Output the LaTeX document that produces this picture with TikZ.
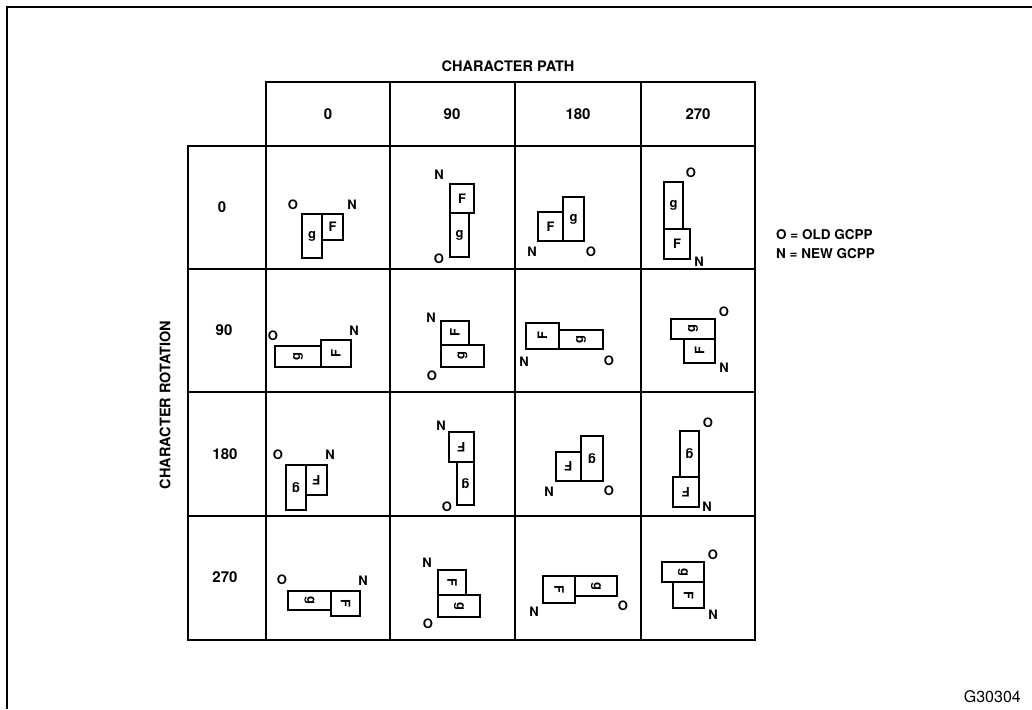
\documentclass[tikz,border=0pt]{standalone}
\usepackage{fontspec}
\setmainfont{TeX Gyre Heros}
\tikzset{
  frameline/.style={line width=1.8pt},
  gridline/.style={line width=1.8pt},
  box/.style={draw, line width=1.7pt, inner sep=0pt, outer sep=0pt},
  glyph/.style={inner sep=0pt, font=\fontsize{13}{15}\selectfont\bfseries},
  lbl/.style={inner sep=0pt, font=\fontsize{13}{15}\selectfont\bfseries},
  head/.style={inner sep=0pt, font=\fontsize{15}{17}\selectfont\bfseries},
  title/.style={inner sep=0pt, font=\fontsize{14.5}{17}\selectfont\bfseries},
  legend/.style={inner sep=0pt, anchor=west, font=\fontsize{13.5}{16}\selectfont\bfseries},
}
% name, x1, y1, x2, y2, angle, character
\newcommand{\charbox}[7]{%
  \node[box, minimum width={(#4-#2)*1pt}, minimum height={(#5-#3)*1pt}] (#1) at ({(#2+#4)/2},{(#3+#5)/2}) {};
  \node[glyph, rotate=#6] (#1t) at (#1.center) {#7};
}
\begin{document}
\begin{tikzpicture}[x=1pt,y=-1pt]
\fill[white] (0,0) rectangle (1032,709);
\useasboundingbox (0,0) rectangle (1032,709);
% outer frame
\draw[frameline] (7,709) -- (7,7) -- (1032,7);
% title
\node[title] (pathtitle) at (508,66) {CHARACTER PATH};
\node[title, rotate=90] (rottitle) at (165,405) {CHARACTER ROTATION};
% grid
\draw[gridline] (266,82) rectangle (755,640);
\draw[gridline] (188,146) rectangle (755,640);
\foreach \x in {390,515,641} \draw[gridline] (\x,82) -- (\x,640);
\foreach \y in {269,392,516} \draw[gridline] (188,\y) -- (755,\y);
% column headers
\node[head] (h0) at (328,114) {0};
\node[head] (h90) at (452,114) {90};
\node[head] (h180) at (578,114) {180};
\node[head] (h270) at (698,114) {270};
% row headers
\node[head] (v0) at (222,207) {0};
\node[head] (v90) at (224,330) {90};
\node[head] (v180) at (225,454) {180};
\node[head] (v270) at (225,577) {270};
% legend
\node[legend] (legO) at (776,235) {O = OLD GCPP};
\node[legend] (legN) at (776,254) {N = NEW GCPP};
\node[inner sep=0pt, anchor=east, font=\fontsize{16}{18}\selectfont] (code) at (1021,697) {G30304};

% ---- rotation 0 ----
\charbox{a00g}{302}{214}{322}{258}{0}{g}
\charbox{a00f}{322}{214}{343}{240}{0}{F}
\node[lbl] (a00o) at (293,205) {O};
\node[lbl] (a00n) at (352,205) {N};

\charbox{a01f}{450}{184}{474}{213}{0}{F}
\charbox{a01g}{450}{213}{469}{257}{0}{g}
\node[lbl] (a01n) at (439,175) {N};
\node[lbl] (a01o) at (439,259) {O};

\charbox{a02f}{538}{212}{563}{241}{0}{F}
\charbox{a02g}{563}{197}{584}{241}{0}{g}
\node[lbl] (a02n) at (532,252) {N};
\node[lbl] (a02o) at (591,252) {O};

\charbox{a03g}{664}{182}{683}{229}{0}{g}
\charbox{a03f}{664}{229}{690}{259}{0}{F}
\node[lbl] (a03o) at (691,173) {O};
\node[lbl] (a03n) at (699,262) {N};

% ---- rotation 90 ----
\charbox{b00g}{275}{346}{321}{367}{90}{g}
\charbox{b00f}{321}{340}{351}{367}{90}{F}
\node[lbl] (b00o) at (273,336) {O};
\node[lbl] (b00n) at (354,331) {N};

\charbox{b01f}{441}{321}{469}{345}{90}{F}
\charbox{b01g}{441}{345}{484}{367}{90}{g}
\node[lbl] (b01n) at (431,318) {N};
\node[lbl] (b01o) at (432,376) {O};

\charbox{b02f}{526}{323}{559}{349}{90}{F}
\charbox{b02g}{559}{330}{603}{349}{90}{g}
\node[lbl] (b02n) at (524,362) {N};
\node[lbl] (b02o) at (609,361) {O};

\charbox{b03g}{671}{319}{715}{339}{90}{g}
\charbox{b03f}{684}{339}{715}{363}{90}{F}
\node[lbl] (b03o) at (724,312) {O};
\node[lbl] (b03n) at (724,368) {N};

% ---- rotation 180 ----
\charbox{c00g}{286}{465}{306}{510}{180}{g}
\charbox{c00f}{306}{465}{327}{495}{180}{F}
\node[lbl] (c00o) at (278,455) {O};
\node[lbl] (c00n) at (330,455) {N};

\charbox{c01f}{449}{432}{474}{462}{180}{F}
\charbox{c01g}{457}{462}{474}{505}{180}{g}
\node[lbl] (c01n) at (441,426) {N};
\node[lbl] (c01o) at (447,507) {O};

\charbox{c02f}{556}{452}{581}{481}{180}{F}
\charbox{c02g}{581}{436}{603}{481}{180}{g}
\node[lbl] (c02n) at (549,492) {N};
\node[lbl] (c02o) at (609,491) {O};

\charbox{c03g}{680}{431}{699}{477}{180}{g}
\charbox{c03f}{673}{477}{699}{507}{180}{F}
\node[lbl] (c03o) at (708,423) {O};
\node[lbl] (c03n) at (707,507) {N};

% ---- rotation 270 ----
\charbox{d00g}{288}{591}{331}{610}{270}{g}
\charbox{d00f}{331}{591}{360}{616}{270}{F}
\node[lbl] (d00o) at (282,580) {O};
\node[lbl] (d00n) at (363,581) {N};

\charbox{d01f}{438}{570}{466}{595}{270}{F}
\charbox{d01g}{438}{595}{480}{617}{270}{g}
\node[lbl] (d01n) at (427,563) {N};
\node[lbl] (d01o) at (428,624) {O};

\charbox{d02f}{543}{576}{575}{603}{270}{F}
\charbox{d02g}{575}{576}{617}{596}{270}{g}
\node[lbl] (d02n) at (534,612) {N};
\node[lbl] (d02o) at (623,606) {O};

\charbox{d03g}{662}{562}{704}{582}{270}{g}
\charbox{d03f}{673}{582}{704}{608}{270}{F}
\node[lbl] (d03o) at (713,555) {O};
\node[lbl] (d03n) at (713,615) {N};
\end{tikzpicture}
\end{document}
